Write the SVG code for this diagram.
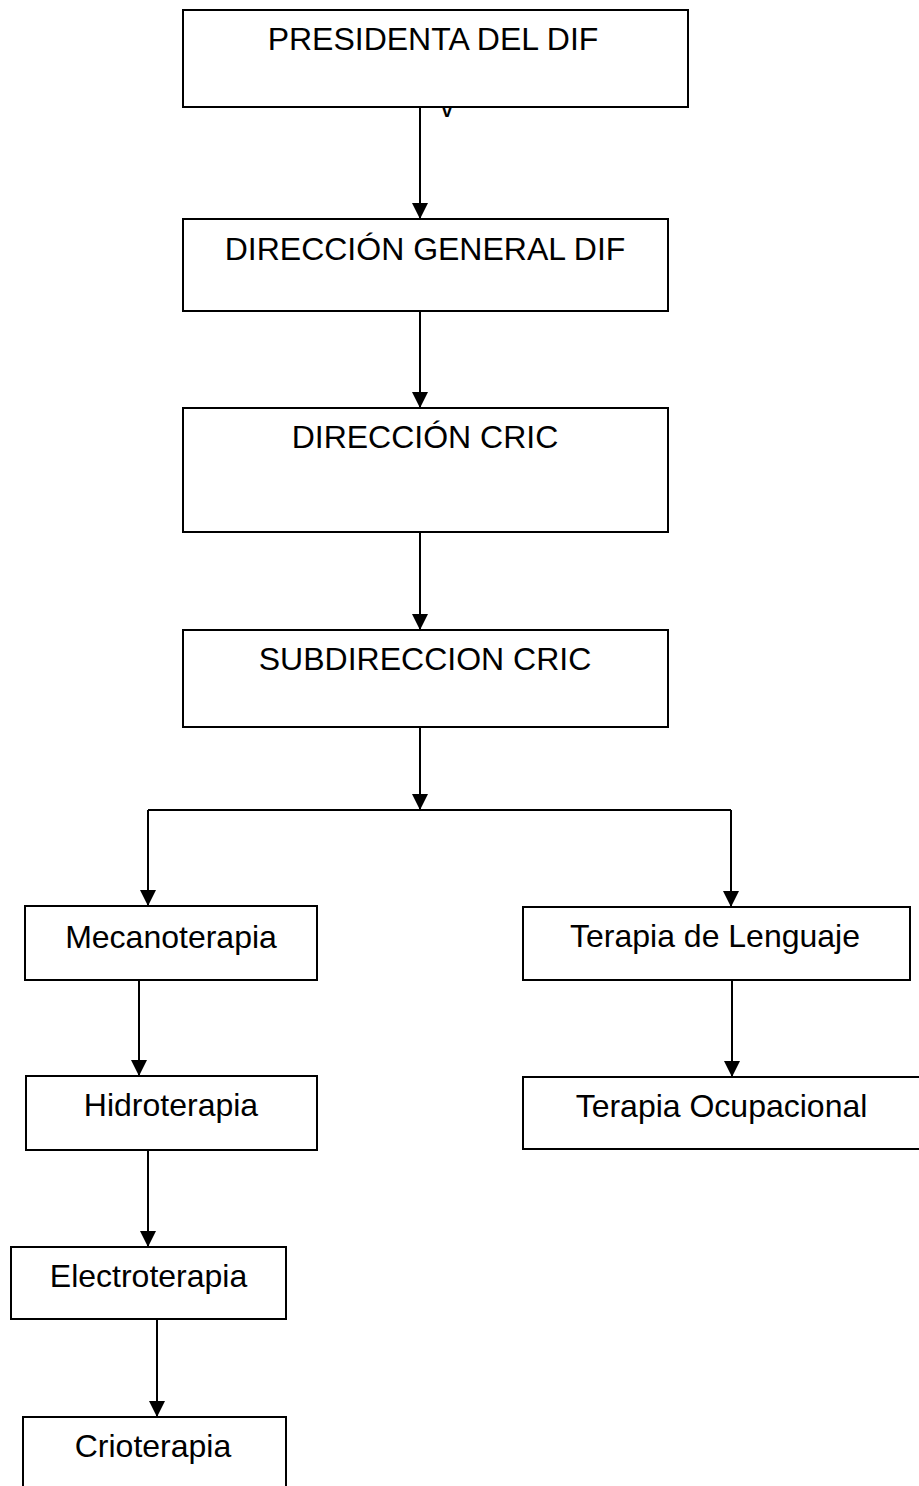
<svg xmlns="http://www.w3.org/2000/svg" width="919" height="1486" viewBox="0 0 919 1486">
<style>
.box{fill:#fff;stroke:#000;stroke-width:2}
.lbl{font-family:"Liberation Sans",Arial,sans-serif;font-size:32px;fill:#000;text-anchor:middle}
.con{stroke:#000;stroke-width:2;fill:none}
.arr{marker-end:url(#ah)}
</style>
<defs>
<marker id="ah" viewBox="0 -8 16 16" refX="16" refY="0" markerWidth="16" markerHeight="16" markerUnits="userSpaceOnUse" orient="auto">
<path d="M0,-8 L16,0 L0,8 z" fill="#000"/>
</marker>
</defs>
<rect width="919" height="1486" fill="#fff"/>
<g id="connectors">
<line class="con arr" x1="420" y1="107" x2="420" y2="219"/>
<line class="con arr" x1="420" y1="311" x2="420" y2="408"/>
<line class="con arr" x1="420" y1="532" x2="420" y2="630"/>
<line class="con arr" x1="420" y1="727" x2="420" y2="810"/>
<line class="con" x1="148" y1="810" x2="731" y2="810"/>
<line class="con arr" x1="148" y1="810" x2="148" y2="906"/>
<line class="con arr" x1="731" y1="810" x2="731" y2="907"/>
<line class="con arr" x1="139" y1="980" x2="139" y2="1076"/>
<line class="con arr" x1="148" y1="1150" x2="148" y2="1247"/>
<line class="con arr" x1="157" y1="1319" x2="157" y2="1417"/>
<line class="con arr" x1="732" y1="980" x2="732" y2="1077"/>
</g>
<g id="presidenta">
<rect class="box" x="183" y="10" width="505" height="97"/>
<text class="lbl" x="433" y="50">PRESIDENTA DEL DIF</text>
<text x="447" y="117" font-family="Liberation Sans,Arial,sans-serif" font-size="18" font-weight="bold" text-anchor="middle">v</text>
</g>
<g id="direccion-general">
<rect class="box" x="183" y="219" width="485" height="92"/>
<text class="lbl" x="425" y="260">DIRECCIÓN GENERAL DIF</text>
</g>
<g id="direccion-cric">
<rect class="box" x="183" y="408" width="485" height="124"/>
<text class="lbl" x="425" y="448">DIRECCIÓN CRIC</text>
</g>
<g id="subdireccion-cric">
<rect class="box" x="183" y="630" width="485" height="97"/>
<text class="lbl" x="425" y="670">SUBDIRECCION CRIC</text>
</g>
<g id="mecanoterapia">
<rect class="box" x="25" y="906" width="292" height="74"/>
<text class="lbl" x="171" y="948">Mecanoterapia</text>
</g>
<g id="hidroterapia">
<rect class="box" x="26" y="1076" width="291" height="74"/>
<text class="lbl" x="171" y="1116">Hidroterapia</text>
</g>
<g id="electroterapia">
<rect class="box" x="11" y="1247" width="275" height="72"/>
<text class="lbl" x="148.5" y="1287">Electroterapia</text>
</g>
<g id="crioterapia">
<rect class="box" x="23" y="1417" width="263" height="90"/>
<text class="lbl" x="153" y="1457">Crioterapia</text>
</g>
<g id="terapia-lenguaje">
<rect class="box" x="523" y="907" width="387" height="73"/>
<text class="lbl" x="715" y="947">Terapia de Lenguaje</text>
</g>
<g id="terapia-ocupacional">
<rect class="box" x="523" y="1077" width="400" height="72"/>
<text class="lbl" x="721.5" y="1117">Terapia Ocupacional</text>
</g>
</svg>
